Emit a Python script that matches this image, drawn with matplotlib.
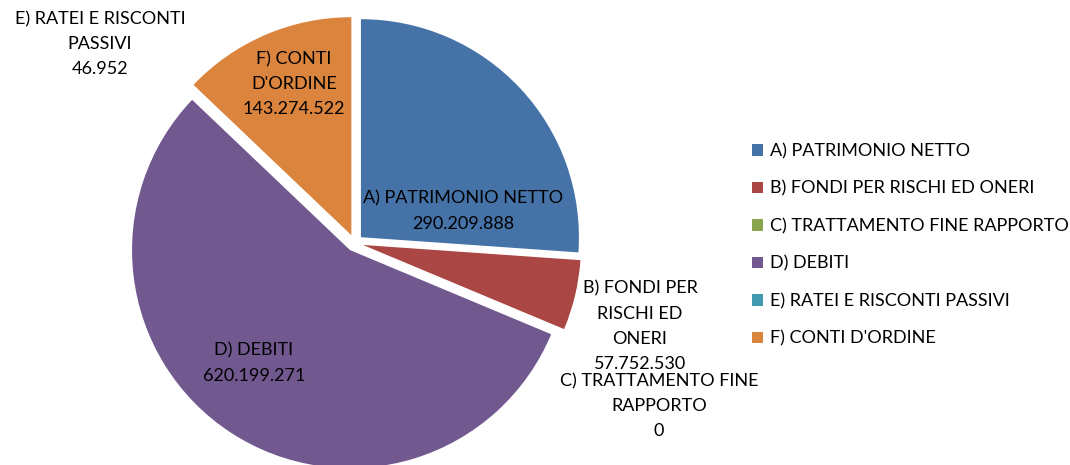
import matplotlib
matplotlib.use("Agg")
import matplotlib.pyplot as plt
import numpy as np

categories = ["A) PATRIMONIO NETTO", "B) FONDI PER RISCHI ED ONERI",
              "C) TRATTAMENTO FINE RAPPORTO", "D) DEBITI",
              "E) RATEI E RISCONTI PASSIVI", "F) CONTI D'ORDINE"]
values = [290209888, 57752530, 0, 620199271, 46952, 143274522]
label_names = ["A) PATRIMONIO NETTO", "B) FONDI PER\nRISCHI ED\nONERI",
               "C) TRATTAMENTO FINE\nRAPPORTO", "D) DEBITI",
               "E) RATEI E RISCONTI\nPASSIVI", "F) CONTI\nD'ORDINE"]
colors = ["#4572A7", "#AA4643", "#89A54E", "#71588F", "#4198AF", "#DB843D"]

plt.rcParams['font.family'] = ['Lato', 'DejaVu Sans']
W, H = 1070, 465
fig = plt.figure(figsize=(W / 100, H / 100), dpi=100)
ax = fig.add_axes([0, 0, 1, 1])

cx, cy, r = 354.7, H - 243, 218
explode = [8.5] * len(values)
wedges, _ = ax.pie(values, colors=colors, startangle=90, counterclock=False,
                   center=(cx, cy), radius=r, explode=explode,
                   wedgeprops=dict(edgecolor='none'), frame=True)
ax.set_xlim(0, W)
ax.set_ylim(0, H)
ax.set_aspect('equal')
ax.axis('off')

def fmt(v):
    return f"{v:,}".replace(",", ".")

# label centers (pixel coords, y from top)
label_pos = [(463, 211), (640, 326), (659, 406), (254, 363), (100, 44), (294, 84)]
fs = 13
for name, v, (x, y) in zip(label_names, values, label_pos):
    ax.text(x, H - y, name + "\n" + fmt(v), ha='center', va='center',
            fontsize=fs, linespacing=1.7, color='#000000')

leg = ax.legend(wedges, categories, loc='center left',
                bbox_to_anchor=(745 / W, (H - 245) / H), frameon=False,
                fontsize=fs, handlelength=0.6, handleheight=0.6,
                handletextpad=0.4, labelspacing=1.18, borderaxespad=0)

fig.savefig("out.png", dpi=100)
